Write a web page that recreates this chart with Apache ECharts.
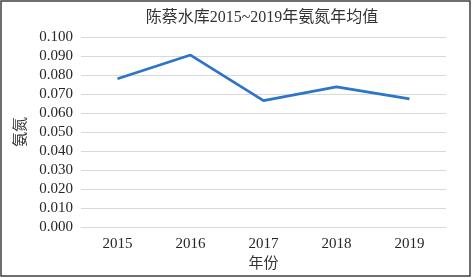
<!DOCTYPE html>
<html>
<head>
<meta charset="utf-8">
<script src="https://cdn.jsdelivr.net/npm/echarts@6/dist/echarts.min.js"></script>
<style>
html, body { margin: 0; padding: 0; background: #fff; }
#main { width: 472px; height: 278px; }
</style>
</head>
<body>
<div id="main"></div>
<script>
var years = ['2015', '2016', '2017', '2018', '2019'];
var nh3n = [0.078, 0.0905, 0.0665, 0.0738, 0.0674];
var yTicks = { min: 0, max: 0.1, interval: 0.01 };

var fontFamily = '"Liberation Serif", "Noto Sans CJK SC", serif';

var myChart = echarts.init(document.getElementById('main'), null, { renderer: 'canvas' });

var option = {
    backgroundColor: '#fff',
    textStyle: { fontFamily: fontFamily },
    title: {
        text: '陈蔡水库2015~2019年氨氮年均值',
        left: 257,
        top: 5,
        textAlign: 'center',
        textStyle: { fontFamily: fontFamily, fontSize: 16, fontWeight: 'normal', color: '#333' }
    },
    graphic: [{
        type: 'rect',
        shape: { x: 1, y: 1, width: 469, height: 275 },
        style: { fill: null, stroke: '#3f3f3f', lineWidth: 1.5 },
        silent: true
    }],
    grid: { left: 81, right: 26, top: 37, bottom: 51 },
    xAxis: {
        type: 'category',
        data: years,
        name: '年份',
        nameLocation: 'middle',
        nameGap: 30,
        nameTextStyle: { fontFamily: fontFamily, fontSize: 15, color: '#333' },
        axisLine: { lineStyle: { color: '#d9d9d9', width: 1 } },
        axisTick: { show: false },
        axisLabel: { fontFamily: fontFamily, fontSize: 15, color: '#262626', margin: 10 }
    },
    yAxis: {
        type: 'value',
        min: yTicks.min,
        max: yTicks.max,
        interval: yTicks.interval,
        name: '氨氮',
        nameLocation: 'middle',
        nameGap: 52,
        nameRotate: 90,
        nameTextStyle: { fontFamily: fontFamily, fontSize: 15, color: '#333' },
        axisLine: { show: false },
        axisTick: { show: false },
        splitLine: { lineStyle: { color: '#d9d9d9', width: 1 } },
        axisLabel: {
            fontFamily: fontFamily, fontSize: 15, color: '#262626', margin: 8,
            formatter: function (v) { return v.toFixed(3); }
        }
    },
    series: [{
        type: 'line',
        data: nh3n,
        symbol: 'none',
        lineStyle: { color: '#2e75c8', width: 2.75 },
        itemStyle: { color: '#2e75c8' }
    }]
};

myChart.setOption(option);
window.addEventListener('resize', myChart.resize);
</script>
</body>
</html>
